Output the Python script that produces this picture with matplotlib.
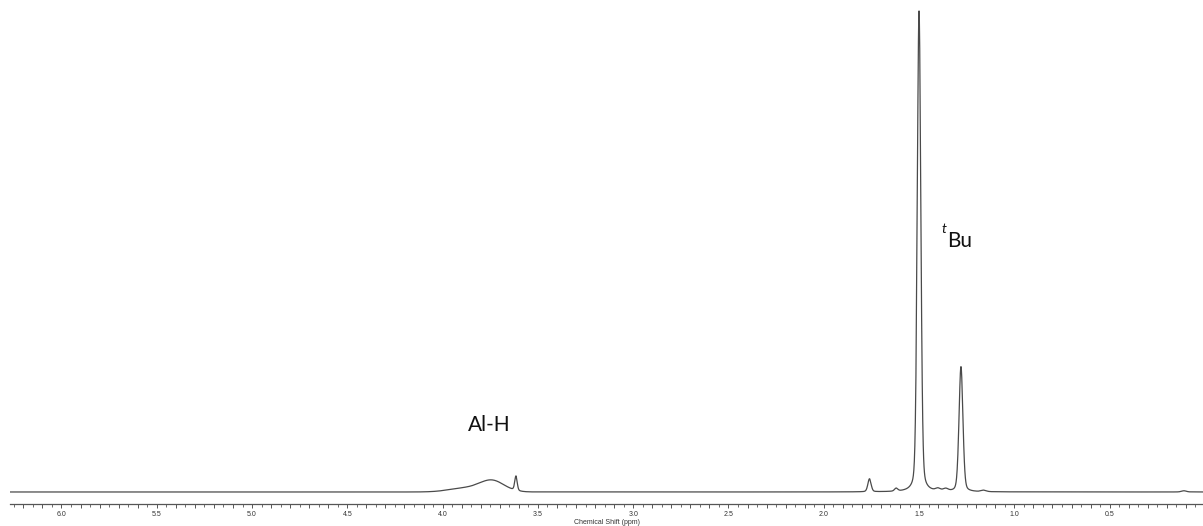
import numpy as np
import matplotlib
matplotlib.use('Agg')
from matplotlib import pyplot as plt
from matplotlib.ticker import MultipleLocator, FuncFormatter

# 1H NMR peak list: position (ppm), relative height, FWHM (ppm)
peak_ppm = [1.50, 1.28, 1.76, 3.615, 3.74, 3.88, 1.62, 1.40, 1.36, 1.16, 0.11]
peak_height = [100.0, 26.0, 2.7, 3.0, 2.3, 0.8, 0.6, 0.5, 0.5, 0.3, 0.25]
peak_width = [0.022, 0.024, 0.02, 0.015, 0.15, 0.2, 0.02, 0.03, 0.03, 0.03, 0.03]
labels = ['Al-H', 'Bu']

def pvoigt(x, x0, h, w, eta=0.3):
    g = np.exp(-4 * np.log(2) * ((x - x0) / w) ** 2)
    l = 1.0 / (1.0 + 4 * ((x - x0) / w) ** 2)
    return h * (eta * l + (1 - eta) * g)

ppm = np.linspace(0.0, 6.3, 12000)
spec = np.zeros_like(ppm)
for p, h, w in zip(peak_ppm, peak_height, peak_width):
    eta = 0.0 if w > 0.1 else 0.25
    spec += pvoigt(ppm, p, h, w, eta)

plt.rcParams['font.family'] = ['Liberation Sans', 'DejaVu Sans']

fig = plt.figure(figsize=(12.03, 5.26), dpi=100)
ax = fig.add_axes([10 / 1203, 22 / 526, 1193 / 1203, 504 / 526])
ax.plot(ppm, spec, color='#4a4a4a', lw=0.9)

ax.set_xlim(6.27, 0.01)
ax.set_ylim(-2.5, 102.3)

for s in ['top', 'left', 'right']:
    ax.spines[s].set_visible(False)
ax.spines['bottom'].set_color('#555555')
ax.spines['bottom'].set_linewidth(0.9)
ax.set_yticks([])

# labels only on every 0.5 ppm, no label at 0.0
def fmt(v, pos):
    if v > 0.05 and abs(v * 2 - round(v * 2)) < 1e-6:
        return '%.1f' % v
    return ''

ax.xaxis.set_major_locator(MultipleLocator(0.1))
ax.xaxis.set_minor_locator(MultipleLocator(0.05))
ax.xaxis.set_major_formatter(FuncFormatter(fmt))
ax.tick_params(axis='x', which='major', length=3, width=0.7, color='#555555',
               labelsize=5, labelcolor='#333333', pad=2)
ax.tick_params(axis='x', which='minor', length=2, width=0.6, color='#555555')
ax.set_xlabel('Chemical Shift (ppm)', fontsize=5, color='#333333', labelpad=1)

ax.text(3.755, 13.9, labels[0], fontsize=15, ha='center', va='center',
        family=['Lato', 'DejaVu Sans'], color='#111111')
ax.text(1.351, 50.9, labels[1], fontsize=15, ha='left', va='baseline',
        family=['Lato', 'DejaVu Sans'], color='#111111')
ax.text(1.380, 53.8, 't', fontsize=10, ha='left', va='baseline', style='italic',
        family=['Lato', 'DejaVu Sans'], color='#111111')

fig.savefig('out.png', dpi=100)
